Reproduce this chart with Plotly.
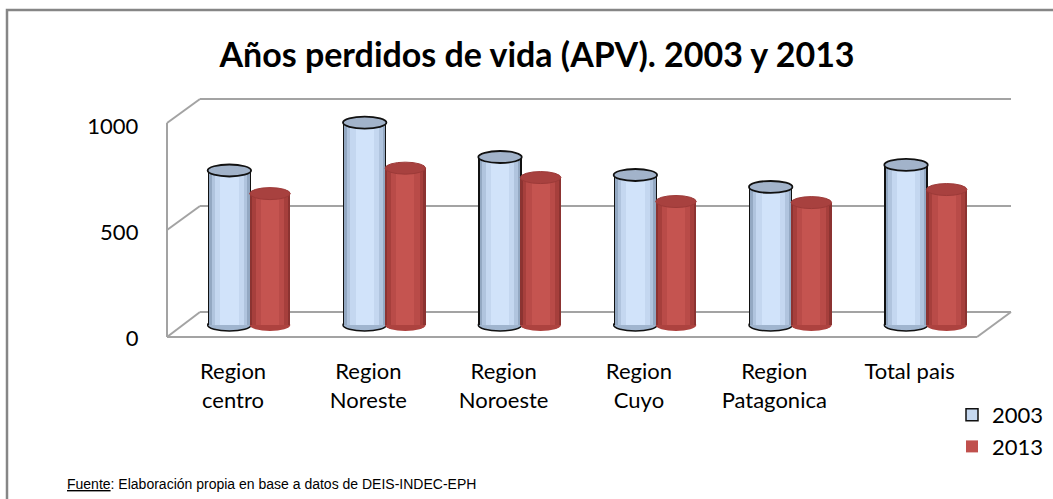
import plotly.graph_objects as go

# ---------------- data ----------------
categories = ["Region<br>centro", "Region<br>Noreste", "Region<br>Noroeste",
              "Region<br>Cuyo", "Region<br>Patagonica", "Total pais"]
apv_2003 = [722, 946, 785, 701, 645, 748]
apv_2013 = [614, 733, 689, 577, 572, 633]
y_ticks = [0, 500, 1000]
series_names = ["2003", "2013"]
title_text = "<b>Años perdidos de vida (APV). 2003 y 2013</b>"
source_text = "<u>Fuente</u>: Elaboración propia en base a datos de DEIS-INDEC-EPH"

W, H = 1053, 499
def px(x):
    return x / W
def py(y):
    return 1 - y / H

FONT = "Lato"
idx = list(range(len(categories)))

fig = go.Figure()

bw = 0.30           # cylinder width in category units
ell = 28            # half height of cylinder caps in value units
ymin = -60          # room below zero for the bottom caps

blue_layers = [(1.07, "#111111"), (1.0, "#93a8c2"), (0.88, "#b0c4de"),
               (0.70, "#c4d7f0"), (0.45, "#d1e3fa")]
red_layers = [(1.0, "#8c3331"), (0.88, "#a63f3c"), (0.70, "#b94b48"),
              (0.45, "#c55450")]

def add_cylinder(values, center, layers):
    for frac, col in layers:
        ww = bw * frac
        fig.add_trace(go.Bar(
            x=idx, y=values, width=ww, offset=center - ww / 2,
            marker=dict(color=col, line=dict(width=0)),
            showlegend=False, hoverinfo="skip", xaxis="x", yaxis="y"))

add_cylinder(apv_2003, -bw / 2, blue_layers)
add_cylinder(apv_2013, bw / 2, red_layers)

# invisible trace so the front-plane label axes are drawn
fig.add_trace(go.Scatter(x=idx, y=apv_2003, mode="markers",
                         marker=dict(opacity=0), showlegend=False,
                         hoverinfo="skip", xaxis="x2", yaxis="y2"))

# legend entries
fig.add_trace(go.Bar(x=[None], y=[None], name=series_names[0],
                     marker=dict(color="#c6d9f1", line=dict(color="#111111", width=1.5)),
                     xaxis="x", yaxis="y"))
fig.add_trace(go.Bar(x=[None], y=[None], name=series_names[1],
                     marker=dict(color="#c0504d", line=dict(width=0)),
                     xaxis="x", yaxis="y"))

shapes = []
# outer chart border
shapes.append(dict(type="rect", xref="paper", yref="paper",
                   x0=px(7), x1=px(1060), y0=py(10), y1=py(510),
                   line=dict(color="#868686", width=2.5), fillcolor="rgba(0,0,0,0)",
                   layer="below"))
grid = dict(color="#a3a3a3", width=2)
frame_lines = [
    # back wall gridlines
    (200, 99, 1011, 99), (200, 206, 1011, 206), (200, 312, 1011, 312),
    # side wall diagonals
    (167, 123, 200, 99), (167, 230, 200, 206), (167, 337, 200, 312),
    # front left edge
    (167, 123, 167, 337),
    # floor
    (167, 337, 977, 337), (977, 337, 1011, 312),
]
for x0, y0, x1, y1 in frame_lines:
    shapes.append(dict(type="line", xref="paper", yref="paper",
                       x0=px(x0), y0=py(y0), x1=px(x1), y1=py(y1),
                       line=grid, layer="below"))

# cylinder caps (bottom, below bars; top, above bars)
for i in idx:
    c03 = i - bw / 2
    c13 = i + bw / 2
    shapes.append(dict(type="circle", xref="x", yref="y", layer="below",
                       x0=c03 - bw * 1.07 / 2, x1=c03 + bw * 1.07 / 2, y0=-ell, y1=ell,
                       fillcolor="#a0b5cf", line=dict(color="#111111", width=1.5)))
    shapes.append(dict(type="circle", xref="x", yref="y", layer="below",
                       x0=c13 - bw / 2, x1=c13 + bw / 2, y0=-ell, y1=ell,
                       fillcolor="#ad423f", line=dict(width=0)))
for i in idx:
    c03 = i - bw / 2
    c13 = i + bw / 2
    v3, v13 = apv_2003[i], apv_2013[i]
    shapes.append(dict(type="circle", xref="x", yref="y", layer="above",
                       x0=c13 - bw / 2, x1=c13 + bw / 2, y0=v13 - ell, y1=v13 + ell,
                       fillcolor="#a8413f", line=dict(color="#9c3a38", width=1)))
    shapes.append(dict(type="circle", xref="x", yref="y", layer="above",
                       x0=c03 - bw * 1.07 / 2, x1=c03 + bw * 1.07 / 2, y0=v3 - ell, y1=v3 + ell,
                       fillcolor="#a2b3ca", line=dict(color="#111111", width=1.8)))

scale = (325 - 111) / 1000.0   # px per unit at mid depth

fig.update_layout(
    width=W, height=H, autosize=False,
    margin=dict(l=0, r=0, t=0, b=0, pad=0, autoexpand=False),
    paper_bgcolor="white", plot_bgcolor="rgba(0,0,0,0)",
    font=dict(family=FONT, color="black"),
    barmode="overlay", bargap=0,
    title=dict(text=title_text, x=px(537), y=py(55), xanchor="center", yanchor="middle",
               xref="paper", yref="paper", automargin=False,
               font=dict(family=FONT, size=34, color="black")),
    xaxis=dict(domain=[px(182), px(994)], range=[-0.5, 5.5], visible=False,
               anchor="y", fixedrange=True, automargin=False),
    yaxis=dict(domain=[py(325 - ymin * scale), py(111)], range=[ymin, 1000], visible=False,
               anchor="x", fixedrange=True, automargin=False),
    # front-plane axes that carry the labels
    xaxis2=dict(domain=[px(165.4), px(977.2)], range=[-0.5, 5.5], anchor="y2",
                tickmode="array", tickvals=idx, ticktext=categories,
                showgrid=False, zeroline=False, showline=False, ticks="",
                ticklabelstandoff=18, fixedrange=True, automargin=False,
                tickfont=dict(family=FONT, size=22, color="black")),
    yaxis2=dict(domain=[py(338), py(126)], range=[0, 1000], anchor="x2",
                tickmode="array", tickvals=y_ticks, ticktext=[str(t) for t in y_ticks],
                showgrid=False, zeroline=False, showline=False, ticks="",
                ticklabelstandoff=26, fixedrange=True, automargin=False,
                tickfont=dict(family=FONT, size=22, color="black")),
    legend=dict(x=px(952), y=py(394), xanchor="left", yanchor="top",
                font=dict(family=FONT, size=22, color="black"),
                bgcolor="rgba(0,0,0,0)", traceorder="normal", itemclick=False),
    shapes=shapes,
    annotations=[dict(text=source_text, xref="paper", yref="paper",
                      x=px(65), y=py(484), xanchor="left", yanchor="middle",
                      showarrow=False,
                      font=dict(family="Liberation Sans", size=14, color="black"))],
)

fig.write_html("out.html", config={"displayModeBar": False},
               post_script="document.body.style.margin='0';")
